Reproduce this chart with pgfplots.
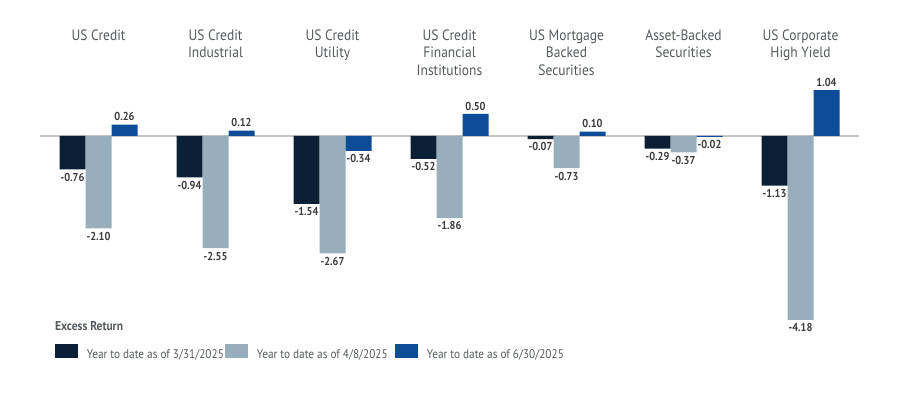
\documentclass[border=0pt]{standalone}
\usepackage{fontspec}
\setmainfont{PT Sans}[FakeStretch=0.9]
\usepackage{pgfplots}
\pgfplotsset{compat=1.18}
\definecolor{cdark}{HTML}{0B1F35}
\definecolor{cgray}{HTML}{97AFBC}
\definecolor{cblue}{HTML}{0D4C97}
\definecolor{ctext}{HTML}{555A5E}
\definecolor{clab}{HTML}{3C3C3C}
\definecolor{cline}{HTML}{C4C4C4}
\tikzset{catlab/.style={anchor=north, align=center, inner sep=0pt, text=ctext, font=\fontsize{15}{17.5}\selectfont}}
\newcommand{\lt}[1]{\makebox[138pt][l]{#1}}
\begin{document}
\begin{tikzpicture}[x=1pt,y=1pt]
\useasboundingbox (0,0) rectangle (900,399);
\begin{axis}[
  at={(40pt,69pt)}, anchor=south west,
  scale only axis, width=819pt, height=310pt,
  xmin=-0.5, xmax=6.5, ymin=-4.409, ymax=2.636,
  axis lines=none, clip=false,
  ybar=0pt, bar width=26pt,
  nodes near coords={\pgfmathprintnumber[fixed,fixed zerofill,precision=2,assume math mode=true]{\pgfplotspointmeta}},
  every node near coord/.append style={font=\fontsize{11.5}{13}\selectfont\bfseries, text=clab, inner sep=3.5pt},
  legend columns=3,
  legend style={draw=none, fill=none, inner sep=0pt, outer sep=0pt,
    at={(axis description cs:0.0183,-0.0452)}, anchor=north west,
    font=\fontsize{12.5}{14}\selectfont, text=ctext,
    column sep=0pt, row sep=0pt,
    nodes={inner sep=0pt, outer sep=0pt}},
  legend image code/.code={\fill[#1] (0pt,-3.5pt) rectangle (23pt,10.5pt); \path (32pt,0pt);},
]
\draw[cline, line width=1.3pt] (axis cs:-0.5,0) -- (axis cs:6.5,0);
\addplot[fill=cdark, draw=none] coordinates {(0,-0.76) (1,-0.94) (2,-1.54) (3,-0.52) (4,-0.07) (5,-0.29) (6,-1.13)};
\addlegendentry{\lt{Year to date as of 3/31/2025}}
\addplot[fill=cgray, draw=none] coordinates {(0,-2.10) (1,-2.55) (2,-2.67) (3,-1.86) (4,-0.73) (5,-0.37) (6,-4.18)};
\addlegendentry{\lt{Year to date as of 4/8/2025}}
\addplot[fill=cblue, draw=none] coordinates {(0,0.26) (1,0.12) (2,-0.34) (3,0.50) (4,0.10) (5,-0.02) (6,1.04)};
\addlegendentry{\lt{Year to date as of 6/30/2025}}
\node[catlab] at (axis cs:0,2.42) {US Credit};
\node[catlab] at (axis cs:1,2.42) {US Credit\\Industrial};
\node[catlab] at (axis cs:2,2.42) {US Credit\\Utility};
\node[catlab] at (axis cs:3,2.42) {US Credit\\Financial\\Institutions};
\node[catlab] at (axis cs:4,2.42) {US Mortgage\\Backed\\Securities};
\node[catlab] at (axis cs:5,2.42) {Asset-Backed\\Securities};
\node[catlab] at (axis cs:6,2.42) {US Corporate\\High Yield};
\end{axis}
\node[anchor=base west, inner sep=0pt, text=ctext, font=\fontsize{12.8}{14}\selectfont\bfseries] at (55,68) {Excess Return};
\end{tikzpicture}
\end{document}
